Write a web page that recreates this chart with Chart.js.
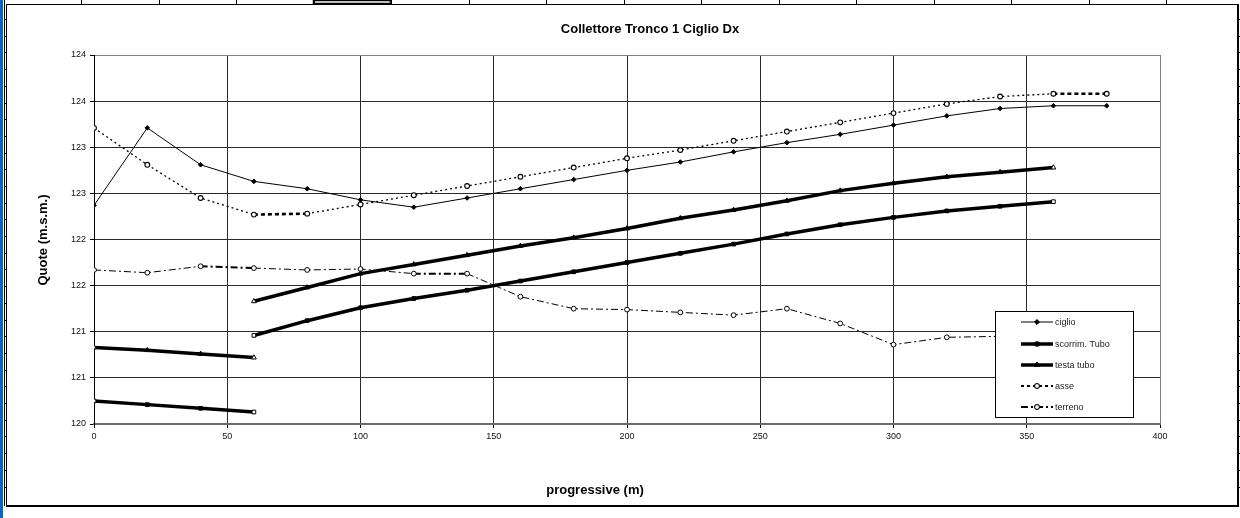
<!DOCTYPE html>
<html><head><meta charset="utf-8">
<script src="https://cdn.jsdelivr.net/npm/chart.js@4/dist/chart.umd.min.js"></script>
<style>html,body{margin:0;padding:0;background:#fff;overflow:hidden}#wrap{width:1240px;height:518px}</style>
</head><body><div id="wrap"><canvas id="c" width="1240" height="518"></canvas></div>
<script>
// ---- data ----
const chartTitle = 'Collettore Tronco 1 Ciglio Dx';
const xTitle = 'progressive (m)';
const yTitle = 'Quote (m.s.m.)';
const progressive = [0,20,40,60,80,100,120,140,160,180,200,220,240,260,280,300,320,340,360,380];
const ciglio  = [122.37,123.21,122.81,122.63,122.55,122.43,122.35,122.45,122.55,122.65,122.75,122.84,122.95,123.05,123.14,123.24,123.34,123.42,123.45,123.45];
const asse    = [123.21,122.81,122.45,122.27,122.28,122.38,122.48,122.58,122.68,122.78,122.88,122.97,123.07,123.17,123.27,123.37,123.47,123.55,123.58,123.58];
const terreno = [121.67,121.64,121.71,121.69,121.67,121.68,121.63,121.63,121.38,121.25,121.24,121.21,121.18,121.25,121.09,120.86,120.94,120.95,null,null];
const tuboX1 = [0,20,40,60];
const tuboX2 = [60,80,100,120,140,160,180,200,220,240,260,280,300,320,340,360];
const testa1 = [120.83,120.80,120.76,120.72];
const testa2 = [121.33,121.48,121.63,121.73,121.83,121.93,122.02,122.12,122.23,122.32,122.42,122.53,122.61,122.68,122.73,122.78];
const scorr1 = [120.25,120.21,120.17,120.13];
const scorr2 = [120.96,121.12,121.26,121.36,121.45,121.55,121.65,121.75,121.85,121.95,122.06,122.16,122.24,122.31,122.36,122.41];
const labels = ['ciglio','scorrim. Tubo','testa tubo','asse','terreno'];

// ---- build point lists ----
const pts = (xs, ys) => xs.map((x,i)=>({x:x, y:ys[i]})).filter(p=>p.y!==null);
const pieces = (xa, ya, xb, yb) => pts(xa, ya).concat([{x:xa[xa.length-1], y:null}], pts(xb, yb));

const FONT = '"Liberation Sans", Arial, sans-serif';
const endFill = (ctx) => {
  const d = ctx.dataset.data, i = ctx.dataIndex;
  const prev = d[i-1], next = d[i+1];
  if (!prev || prev.y === null || !next || next.y === null) return '#ffffff';
  return '#000000';
};

const datasets = [
  { label: labels[0], data: pts(progressive, ciglio), borderColor:'#000', borderWidth:1,
    pointStyle:'rectRot', pointRadius:2.3, pointBackgroundColor:'#000', pointBorderColor:'#000', pointBorderWidth:1 },
  { label: labels[1], data: pieces(tuboX1, scorr1, tuboX2, scorr2), borderColor:'#000', borderWidth:3.5, spanGaps:false,
    pointStyle:'rect', pointRadius:2.6, pointBackgroundColor:endFill, pointBorderColor:'#000', pointBorderWidth:1 },
  { label: labels[2], data: pieces(tuboX1, testa1, tuboX2, testa2), borderColor:'#000', borderWidth:3.5, spanGaps:false,
    pointStyle:'triangle', pointRadius:2.8, pointBackgroundColor:endFill, pointBorderColor:'#000', pointBorderWidth:1 },
  { label: labels[3], data: pts(progressive, asse), borderColor:'#000', borderWidth:1.3, borderDash:[2,3],
    pointStyle:'circle', pointRadius:2.4, pointBackgroundColor:'#fff', pointBorderColor:'#000', pointBorderWidth:1.1,
    segment:{ borderWidth: c => (c.p0.parsed.x===60||c.p0.parsed.x===360)?2.6:1.3,
              borderDash: c => (c.p0.parsed.x===60||c.p0.parsed.x===360)?[4,3]:[2,3] } },
  { label: labels[4], data: pts(progressive, terreno), borderColor:'#000', borderWidth:1, borderDash:[7,3,2,3],
    pointStyle:'circle', pointRadius:2.4, pointBackgroundColor:'#fff', pointBorderColor:'#000', pointBorderWidth:1,
    segment:{ borderWidth: c => (c.p0.parsed.x===40||c.p0.parsed.x===120)?2:1 } }
];

// ---- decorative frame (screenshot of an embedded spreadsheet chart) ----
const framePlugin = {
  id:'frame',
  beforeDraw(chart){
    const ctx = chart.ctx, W = chart.width, H = chart.height;
    ctx.save();
    ctx.fillStyle = '#fff'; ctx.fillRect(0,0,W,H);
    ctx.fillStyle = '#0a66c2'; ctx.fillRect(0,0,3,H);
    ctx.fillStyle = '#000';
    ctx.fillRect(4,0,1,506);
    ctx.strokeStyle = '#000'; ctx.lineWidth = 1;
    ctx.strokeRect(6.5,4.5,1231,501);
    ctx.fillRect(6,505,1233,2);
    ctx.fillRect(1237,4,2,503);
    for (let y = 19; y < 500; y += 16.7) {
      ctx.fillRect(4, Math.round(y), 3, 1);
      ctx.fillRect(1238, Math.round(y), 2, 1);
    }
    for (let x = 81; x < 1200; x += 77.5) ctx.fillRect(Math.round(x), 0, 1, 4);
    ctx.lineWidth = 1.5; ctx.strokeRect(313.5,0.5,77,3);
    ctx.restore();
  }
};

const textPlugin = {
  id:'texts',
  afterDraw(chart){
    const ctx = chart.ctx;
    ctx.save();
    ctx.fillStyle = '#000';
    ctx.font = 'bold 13px ' + FONT;
    ctx.textAlign = 'center'; ctx.textBaseline = 'middle';
    ctx.fillText(chartTitle, 650, 29);
    ctx.fillText(xTitle, 595, 490);
    ctx.translate(43, 240); ctx.rotate(-Math.PI/2);
    ctx.fillText(yTitle, 0, 0);
    ctx.restore();
  }
};

const legendPlugin = {
  id:'boxLegend',
  afterDraw(chart){
    const ctx = chart.ctx;
    const bx = 995.5, by = 311.5, bw = 138, bh = 106;
    ctx.save();
    ctx.fillStyle = '#fff'; ctx.fillRect(bx, by, bw, bh);
    ctx.strokeStyle = '#000'; ctx.lineWidth = 1; ctx.strokeRect(bx, by, bw, bh);
    const rows = [322, 344, 365, 386, 407];
    chart.data.datasets.forEach((ds, i) => {
      const y = rows[i];
      ctx.save();
      ctx.strokeStyle = ds.borderColor;
      const w = (i===3) ? 2 : (i===4 ? 2 : ds.borderWidth);
      ctx.lineWidth = w;
      ctx.setLineDash(i===3 ? [3,3] : (i===4 ? [7,3,2,3] : []));
      ctx.beginPath(); ctx.moveTo(1021, y); ctx.lineTo(1053, y); ctx.stroke();
      ctx.restore();
      Chart.helpers.drawPoint(ctx, {pointStyle: ds.pointStyle, radius: ds.pointRadius, rotation:0, borderWidth: ds.pointBorderWidth}, 1037, y);
      ctx.fillStyle = (typeof ds.pointBackgroundColor === 'function') ? '#000' : ds.pointBackgroundColor;
      ctx.strokeStyle = '#000';
      ctx.beginPath();
      Chart.helpers.drawPoint(ctx, {pointStyle: ds.pointStyle, radius: ds.pointRadius, rotation:0, borderWidth: ds.pointBorderWidth}, 1037, y);
      ctx.fillStyle = '#222';
      ctx.font = '9px ' + FONT;
      ctx.textAlign = 'left'; ctx.textBaseline = 'middle';
      ctx.fillText(ds.label, 1055, y + 0.5);
    });
    ctx.restore();
  }
};

new Chart(document.getElementById('c'), {
  type:'line',
  data:{ datasets },
  options:{
    responsive:false, animation:false, devicePixelRatio:1,
    parsing:true,
    layout:{ padding:{ left:0, right:80, top:55, bottom:64 } },
    plugins:{ legend:{display:false}, title:{display:false}, tooltip:{enabled:false} },
    elements:{ line:{ tension:0 } },
    scales:{
      x:{ type:'linear', min:0, max:400,
          afterFit: s => { s.height = 30; },
          ticks:{ stepSize:50, color:'#111', font:{family:FONT, size:9}, padding:3, maxRotation:0 },
          grid:{ color: c => (c.tick && c.tick.value===400) ? '#808080' : '#2a2a2a', lineWidth:1, tickLength:4, tickColor:'#000', drawTicks:true },
          border:{ display:true, color:'#6b6b6b', width:2 } },
      y:{ type:'linear', min:120, max:124,
          afterFit: s => { s.width = 94; },
          ticks:{ stepSize:0.5, color:'#111', font:{family:FONT, size:9}, padding:4,
                  callback: v => String(Math.round(v)) },
          grid:{ color: c => (c.tick && c.tick.value===124) ? '#808080' : '#2a2a2a', lineWidth:1, tickLength:4, tickColor:'#000' },
          border:{ display:true, color:'#000', width:1 } }
    }
  },
  plugins:[framePlugin, textPlugin, legendPlugin]
});
</script></body></html>
